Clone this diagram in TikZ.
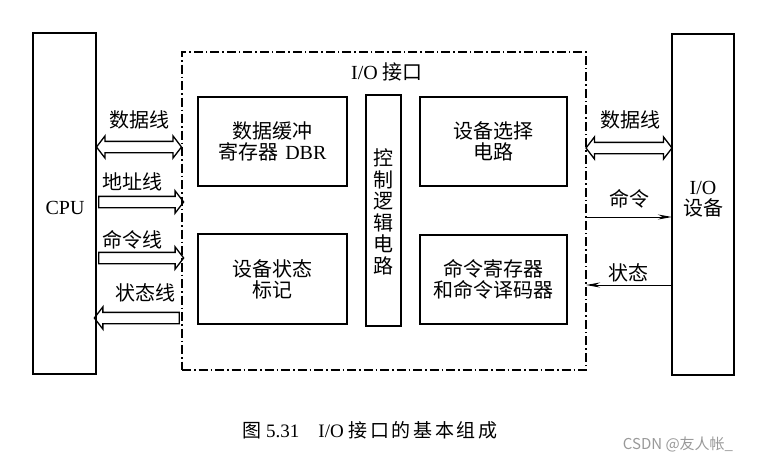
\documentclass[tikz,border=0pt]{standalone}
\usepackage{fontspec}
\setmainfont{Liberation Serif}
\newfontfamily\cjk{Noto Sans CJK SC}
\newfontfamily\cjkwide[LetterSpace=14]{Noto Sans CJK SC}
\newfontfamily\wmfont{Noto Sans CJK SC}
\usetikzlibrary{shapes.arrows,arrows.meta,calc}
\begin{document}
\begin{tikzpicture}[x=1pt,y=-1pt,
  every node/.style={inner sep=0pt, outer sep=0pt},
  lbl/.style={font=\fontsize{20}{21}\selectfont\cjk, align=center},
  blk/.style={draw, line width=1.7pt},
  hbox/.style={draw, line width=1.9pt},
  dashbox/.style={draw, line width=1.1pt, dash pattern=on 9pt off 3pt on 1.5pt off 3pt},
  harrow/.style={single arrow, draw, line width=1.3pt, inner xsep=0pt, inner ysep=5pt,
    minimum width=21pt, single arrow head extend=5.5pt, single arrow tip angle=105, minimum height=85pt},
  hdarrow/.style={double arrow, draw, line width=1.3pt, inner xsep=0pt, inner ysep=5pt,
    minimum width=21pt, double arrow head extend=5.5pt, double arrow tip angle=105, minimum height=85pt},
  sig/.style={line width=1pt, -{Stealth[length=14pt,width=5pt]}}
]
\useasboundingbox (0,0) rectangle (758,461);

% main boxes
\node[blk, minimum width=63pt, minimum height=341pt] (cpu) at (64.5,203.5) {};
\node[font=\fontsize{20}{22}\selectfont] at (65,208) {CPU};
\node[blk, minimum width=62pt, minimum height=341pt] (dev) at (703,204.5) {};
\node[font=\fontsize{20}{22}\selectfont, align=center] at (703,199) {I/O\\[-1pt]{\cjk 设备}};

% interface dashed box
\node[dashbox, minimum width=404pt, minimum height=318pt] (io) at (384,211) {};
\node[font=\fontsize{20}{21}\selectfont] at (387,72) {I/O {\cjk 接口}};

% inner boxes
\node[hbox, minimum width=149pt, minimum height=89pt, lbl] (dbr) at (272.5,141.5) {数据缓冲\\寄存器\,\,{\rmfamily DBR}};
\node[hbox, minimum width=147pt, minimum height=89pt, lbl] (sel) at (493.5,141.5) {设备选择\\电路};
\node[hbox, minimum width=149pt, minimum height=90pt, lbl] (flag) at (272.5,279) {设备状态\\标记};
\node[hbox, minimum width=147pt, minimum height=89pt, lbl] (cmd) at (493.5,279.5) {命令寄存器\\和命令译码器};
\node[hbox, minimum width=35pt, minimum height=231pt] (ctl) at (383.5,210.5) {};
\node[lbl, font=\fontsize{20}{21.5}\selectfont\cjk] at (383,212) {控\\制\\逻\\辑\\电\\路};

% CPU-side buses
\node[hdarrow] (dbus) at ($(cpu.east |- 0,147)!0.5!(io.west |- 0,147)$) {};
\node[harrow] (abus) at ($(cpu.east |- 0,202)!0.5!(io.west |- 0,202)$) {};
\node[harrow] (cbus) at ($(cpu.east |- 0,258)!0.5!(io.west |- 0,258)$) {};
\node[harrow, shape border rotate=180] (sbus) at ($(cpu.east |- 0,318)!0.5!(io.west |- 0,318)$) {};
\node[lbl] at (139,120) {数据线};
\node[lbl] at (132,182) {地址线};
\node[lbl] at (132,240) {命令线};
\node[lbl] at (145,293) {状态线};

% device-side
\node[hdarrow, minimum height=86pt] (ddbus) at ($(io.east |- 0,148)!0.5!(dev.west |- 0,148)$) {};
\node[lbl] at (630,120) {数据线};
\coordinate (c1) at (io.east |- 0,217);
\coordinate (c2) at (dev.west |- 0,217);
\draw[sig] (c1) -- (c2);
\node[lbl] at (629,199) {命令};
\coordinate (s1) at (dev.west |- 0,285);
\coordinate (s2) at (io.east |- 0,285);
\draw[sig] (s1) -- (s2);
\node[lbl] at (628,273) {状态};

% caption
\node[font=\fontsize{19}{21}\selectfont] (cap) at (370,430) {{\cjk 图}~5.31\quad I/O~{\cjkwide 接口的基本组成}};
\node[font=\fontsize{15}{17}\selectfont\wmfont, text=black!40] (wm) at (678,444) {CSDN @友人帐\_};
\end{tikzpicture}
\end{document}
